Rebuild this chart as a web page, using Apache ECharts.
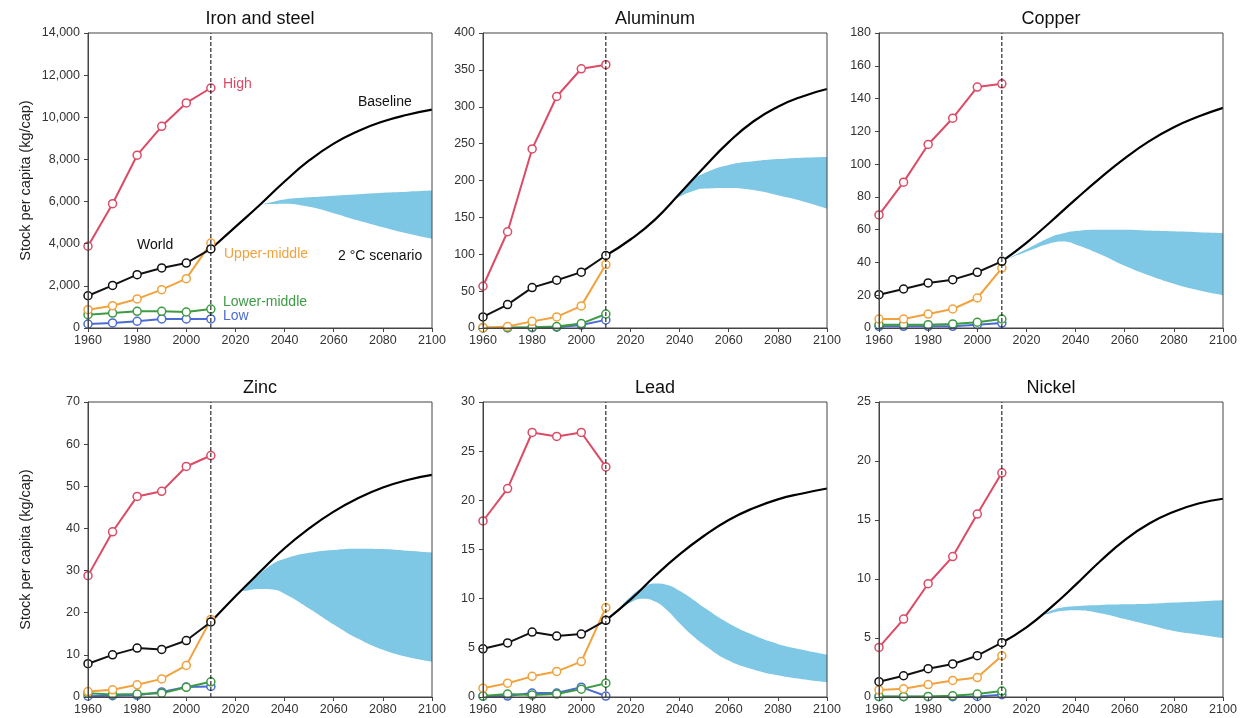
<!DOCTYPE html>
<html><head><meta charset="utf-8">
<script src="https://cdn.jsdelivr.net/npm/echarts@6/dist/echarts.min.js"></script>
<style>html,body{margin:0;padding:0;background:#fff}#c{width:1240px;height:718px}</style>
</head><body><div id="c"></div>
<script>
// ---------- DATA ----------
const histYears = [1960, 1970, 1980, 1990, 2000, 2010];
const projYears = [2010, 2020, 2030, 2040, 2050, 2060, 2070, 2080, 2090, 2100];

// Iron and steel (kg/cap)
const ironHigh        = [3880, 5900, 8200, 9570, 10680, 11390];
const ironWorld       = [1530, 2020, 2530, 2850, 3080, 3750];
const ironUpperMiddle = [870, 1060, 1380, 1820, 2340, 4030];
const ironLowerMiddle = [630, 710, 790, 790, 760, 900];
const ironLow         = [190, 240, 320, 430, 430, 430];
const ironBaseline    = [3750, 4800, 5850, 6950, 7950, 8750, 9350, 9800, 10120, 10360];
const ironBandYears   = [2030, 2035, 2040, 2050, 2060, 2070, 2080, 2090, 2100];
const ironBandUpper   = [5850, 5980, 6100, 6200, 6280, 6350, 6420, 6470, 6520];
const ironBandLower   = [5850, 5880, 5900, 5750, 5450, 5100, 4780, 4480, 4230];

// Aluminum
const alHigh        = [56.6, 130.5, 242.8, 313.9, 351.5, 357];
const alWorld       = [15, 31.7, 54.8, 64.8, 75.7, 98.3];
const alUpperMiddle = [0.5, 2, 9, 15, 30, 86];
const alLowerMiddle = [0.3, 0.5, 1, 2, 6, 19];
const alLow         = [0, 0.2, 0.5, 1, 4, 11];
const alBaseline    = [98.3, 120, 147, 182, 218, 252, 280, 300, 314, 324];
const alBandYears   = [2037, 2040, 2045, 2050, 2060, 2070, 2080, 2090, 2100];
const alBandUpper   = [172, 183, 200, 210, 221, 226, 229, 231, 232];
const alBandLower   = [172, 178, 185, 189, 190, 187, 180, 172, 162];

// Copper
const cuHigh        = [69, 89, 112, 128, 147, 149];
const cuWorld       = [20.3, 23.8, 27.5, 29.5, 34, 40.7];
const cuUpperMiddle = [5.5, 5.5, 8.5, 11.6, 18.3, 36.6];
const cuLowerMiddle = [2, 2, 2, 2.5, 3.5, 5.5];
const cuLow         = [1, 1, 1, 1, 2, 3];
const cuBaseline    = [40.7, 52, 65, 78.5, 91.5, 103.5, 114, 122.5, 129, 134.3];
const cuBandYears   = [2012, 2020, 2030, 2035, 2040, 2050, 2060, 2070, 2080, 2090, 2100];
const cuBandUpper   = [42, 48, 55.5, 57.8, 59.2, 60, 60, 59.5, 59, 58.5, 58];
const cuBandLower   = [42, 46.5, 51.8, 52.8, 51, 45, 38, 32, 27, 23, 20];

// Zinc
const znHigh        = [28.8, 39.2, 47.6, 48.8, 54.7, 57.3];
const znWorld       = [7.9, 10, 11.6, 11.3, 13.4, 17.8];
const znUpperMiddle = [1.3, 1.7, 2.9, 4.3, 7.5, 18.4];
const znLowerMiddle = [0.9, 0.6, 0.7, 0.9, 2.3, 3.6];
const znLow         = [0.2, 0.3, 0.4, 1.2, 2.4, 2.5];
const znBaseline    = [17.8, 23.9, 29.7, 35.3, 40, 44, 47.2, 49.7, 51.5, 52.7];
const znBandYears   = [2022, 2025, 2030, 2035, 2040, 2050, 2060, 2070, 2080, 2090, 2100];
const znBandUpper   = [25, 26.8, 29.3, 31.5, 32.8, 34.2, 34.9, 35.2, 35.1, 34.7, 34.3];
const znBandLower   = [25, 25.3, 25.6, 25.5, 24.5, 21, 17.2, 13.8, 11.2, 9.5, 8.4];

// Lead
const pbHigh        = [17.9, 21.2, 26.9, 26.5, 26.9, 23.4];
const pbWorld       = [4.9, 5.5, 6.6, 6.2, 6.4, 7.8];
const pbUpperMiddle = [0.9, 1.4, 2.1, 2.6, 3.6, 9.1];
const pbLowerMiddle = [0.1, 0.3, 0.2, 0.3, 0.8, 1.4];
const pbLow         = [0.1, 0.1, 0.4, 0.4, 1.0, 0.1];
const pbBaseline    = [7.8, 9.9, 12.3, 14.5, 16.4, 18, 19.2, 20.1, 20.7, 21.2];
const pbBandYears   = [2012, 2015, 2020, 2025, 2030, 2035, 2040, 2045, 2050, 2060, 2070, 2080, 2090, 2100];
const pbBandUpper   = [8.2, 8.9, 10.2, 11.1, 11.55, 11.4, 10.8, 10.0, 9.1, 7.5, 6.3, 5.4, 4.8, 4.3];
const pbBandLower   = [8.2, 8.7, 9.6, 10, 9.7, 8.8, 7.5, 6.3, 5.3, 3.7, 2.8, 2.2, 1.8, 1.5];

// Nickel
const niHigh        = [4.2, 6.6, 9.6, 11.9, 15.5, 19];
const niWorld       = [1.3, 1.8, 2.4, 2.8, 3.5, 4.6];
const niUpperMiddle = [0.6, 0.7, 1.05, 1.4, 1.65, 3.5];
const niLowerMiddle = [0.05, 0.05, 0.05, 0.1, 0.25, 0.5];
const niLow         = [0.02, 0.02, 0.02, 0.03, 0.05, 0.2];
const niBaseline    = [4.6, 5.9, 7.6, 9.5, 11.5, 13.3, 14.7, 15.7, 16.4, 16.8];
const niBandYears   = [2025, 2030, 2035, 2040, 2050, 2060, 2070, 2080, 2090, 2100];
const niBandUpper   = [6.8, 7.3, 7.6, 7.7, 7.8, 7.85, 7.9, 8.0, 8.1, 8.2];
const niBandLower   = [6.8, 7.1, 7.3, 7.35, 7.1, 6.6, 6.1, 5.6, 5.3, 5.0];

const titles = ['Iron and steel', 'Aluminum', 'Copper', 'Zinc', 'Lead', 'Nickel'];
const yMax = [14000, 400, 180, 70, 30, 25];
const yInterval = [2000, 50, 20, 10, 5, 5];
const dividerYear = 2010;
const yAxisTitle = 'Stock per capita (kg/cap)';

// ---------- STYLE / LAYOUT ----------
const FONT = '"Liberation Sans", Arial, Helvetica, sans-serif';
const COL = { high: '#dc4b66', upper: '#f2a23c', lower: '#3e9b43', low: '#4a6cd4', world: '#111111', band: '#7ec8e6' };
const gridLefts = [88, 483, 879], gridTops = [33, 402], GW = 344, GH = 295;

const panels = [
  { high: ironHigh, world: ironWorld, upper: ironUpperMiddle, lower: ironLowerMiddle, low: ironLow, base: ironBaseline, bx: ironBandYears, bu: ironBandUpper, bl: ironBandLower, pre: 2020 },
  { high: alHigh, world: alWorld, upper: alUpperMiddle, lower: alLowerMiddle, low: alLow, base: alBaseline, bx: alBandYears, bu: alBandUpper, bl: alBandLower, pre: 2030 },
  { high: cuHigh, world: cuWorld, upper: cuUpperMiddle, lower: cuLowerMiddle, low: cuLow, base: cuBaseline, bx: cuBandYears, bu: cuBandUpper, bl: cuBandLower, pre: 2010 },
  { high: znHigh, world: znWorld, upper: znUpperMiddle, lower: znLowerMiddle, low: znLow, base: znBaseline, bx: znBandYears, bu: znBandUpper, bl: znBandLower, pre: 2020 },
  { high: pbHigh, world: pbWorld, upper: pbUpperMiddle, lower: pbLowerMiddle, low: pbLow, base: pbBaseline, bx: pbBandYears, bu: pbBandUpper, bl: pbBandLower, pre: 2010 },
  { high: niHigh, world: niWorld, upper: niUpperMiddle, lower: niLowerMiddle, low: niLow, base: niBaseline, bx: niBandYears, bu: niBandUpper, bl: niBandLower, pre: 2020 }
];

function zip(xs, ys) { return xs.map((x, i) => [x, ys[i]]); }

const grids = [], xAxes = [], yAxes = [], series = [], graphics = [];
panels.forEach((p, i) => {
  const col = i % 3, row = Math.floor(i / 3);
  grids.push({ left: gridLefts[col], top: gridTops[row], width: GW, height: GH, show: true, borderColor: '#444', borderWidth: 1, backgroundColor: 'transparent', z: 6 });
  xAxes.push({
    type: 'value', gridIndex: i, min: 1960, max: 2100, interval: 20, z: 6,
    axisLine: { show: true, lineStyle: { color: '#444', width: 1 } },
    axisTick: { show: true, length: 4, lineStyle: { color: '#444' } },
    axisLabel: { fontFamily: FONT, fontSize: 12.5, color: '#333', margin: 6, formatter: v => String(v) },
    splitLine: { show: false }
  });
  yAxes.push({
    type: 'value', gridIndex: i, min: 0, max: yMax[i], interval: yInterval[i], z: 6,
    name: col === 0 ? yAxisTitle : '', nameLocation: 'middle', nameGap: 55,
    nameTextStyle: { fontFamily: FONT, fontSize: 14.5, color: '#222' },
    axisLine: { show: true, lineStyle: { color: '#444', width: 1 } },
    axisTick: { show: true, length: 4, lineStyle: { color: '#444' } },
    axisLabel: { fontFamily: FONT, fontSize: 12.5, color: '#333', margin: 8, formatter: v => v.toLocaleString('en-US') },
    splitLine: { show: false }
  });
  const common = { xAxisIndex: i, yAxisIndex: i, animation: false, silent: true };
  // 2 °C band: blue fill under upper edge, white fill under lower edge
  series.push(Object.assign({}, common, {
    type: 'line', data: zip(p.bx, p.bu), smooth: 0.5, symbol: 'none',
    lineStyle: { width: 0 }, areaStyle: { color: COL.band, opacity: 1 }, z: 2
  }));
  const preVal = p.base[projYears.indexOf(p.pre)];
  series.push(Object.assign({}, common, {
    type: 'line', data: [[p.pre, preVal]].concat(zip(p.bx, p.bl)), smooth: 0.5, symbol: 'none',
    lineStyle: { width: 0 }, areaStyle: { color: '#ffffff', opacity: 1 }, z: 2
  }));
  // Baseline projection
  series.push(Object.assign({}, common, {
    type: 'line', data: zip(projYears, p.base), smooth: 0.5, symbol: 'none',
    lineStyle: { color: '#000', width: 2.2 }, z: 3
  }));
  // Historical income groups
  const hist = (vals, color) => Object.assign({}, common, {
    type: 'line', data: zip(histYears, vals), symbol: 'circle', symbolSize: 8, showSymbol: true,
    lineStyle: { color: color, width: 2 },
    itemStyle: { color: '#ffffff', borderColor: color, borderWidth: 1.5 }, z: 3
  });
  series.push(hist(p.low, COL.low));
  series.push(hist(p.lower, COL.lower));
  series.push(hist(p.upper, COL.upper));
  series.push(hist(p.high, COL.high));
  series.push(hist(p.world, COL.world));
  // divider at 2010
  series.push(Object.assign({}, common, {
    type: 'line', data: [[dividerYear, 0], [dividerYear, yMax[i]]], symbol: 'none',
    lineStyle: { color: '#000', width: 1, type: [4, 2] }, z: 4
  }));
  // Panel title
  graphics.push({
    type: 'text', x: gridLefts[col] + GW / 2, y: gridTops[row] - 14,
    style: { text: titles[i], font: '18px ' + FONT, fill: '#111', align: 'center', verticalAlign: 'middle', textAlign: 'center', textVerticalAlign: 'middle' }
  });
});

// Annotations (Iron and steel panel)
const notes = [
  ['High', 223, 84, COL.high],
  ['Baseline', 358, 102, '#111'],
  ['World', 137, 245, '#111'],
  ['Upper-middle', 224, 254, COL.upper],
  ['2 °C scenario', 338, 256, '#111'],
  ['Lower-middle', 223, 302, COL.lower],
  ['Low', 223, 316, COL.low]
];
notes.forEach(n => graphics.push({
  type: 'text', x: n[1], y: n[2], z: 10,
  style: { text: n[0], font: '14px ' + FONT, fill: n[3], align: 'left', verticalAlign: 'middle', textAlign: 'left', textVerticalAlign: 'middle' }
}));

const chart = echarts.init(document.getElementById('c'), null, { renderer: 'canvas' });
chart.setOption({
  animation: false,
  backgroundColor: '#ffffff',
  grid: grids, xAxis: xAxes, yAxis: yAxes, series: series,
  graphic: { elements: graphics }
});
</script>
</body></html>
